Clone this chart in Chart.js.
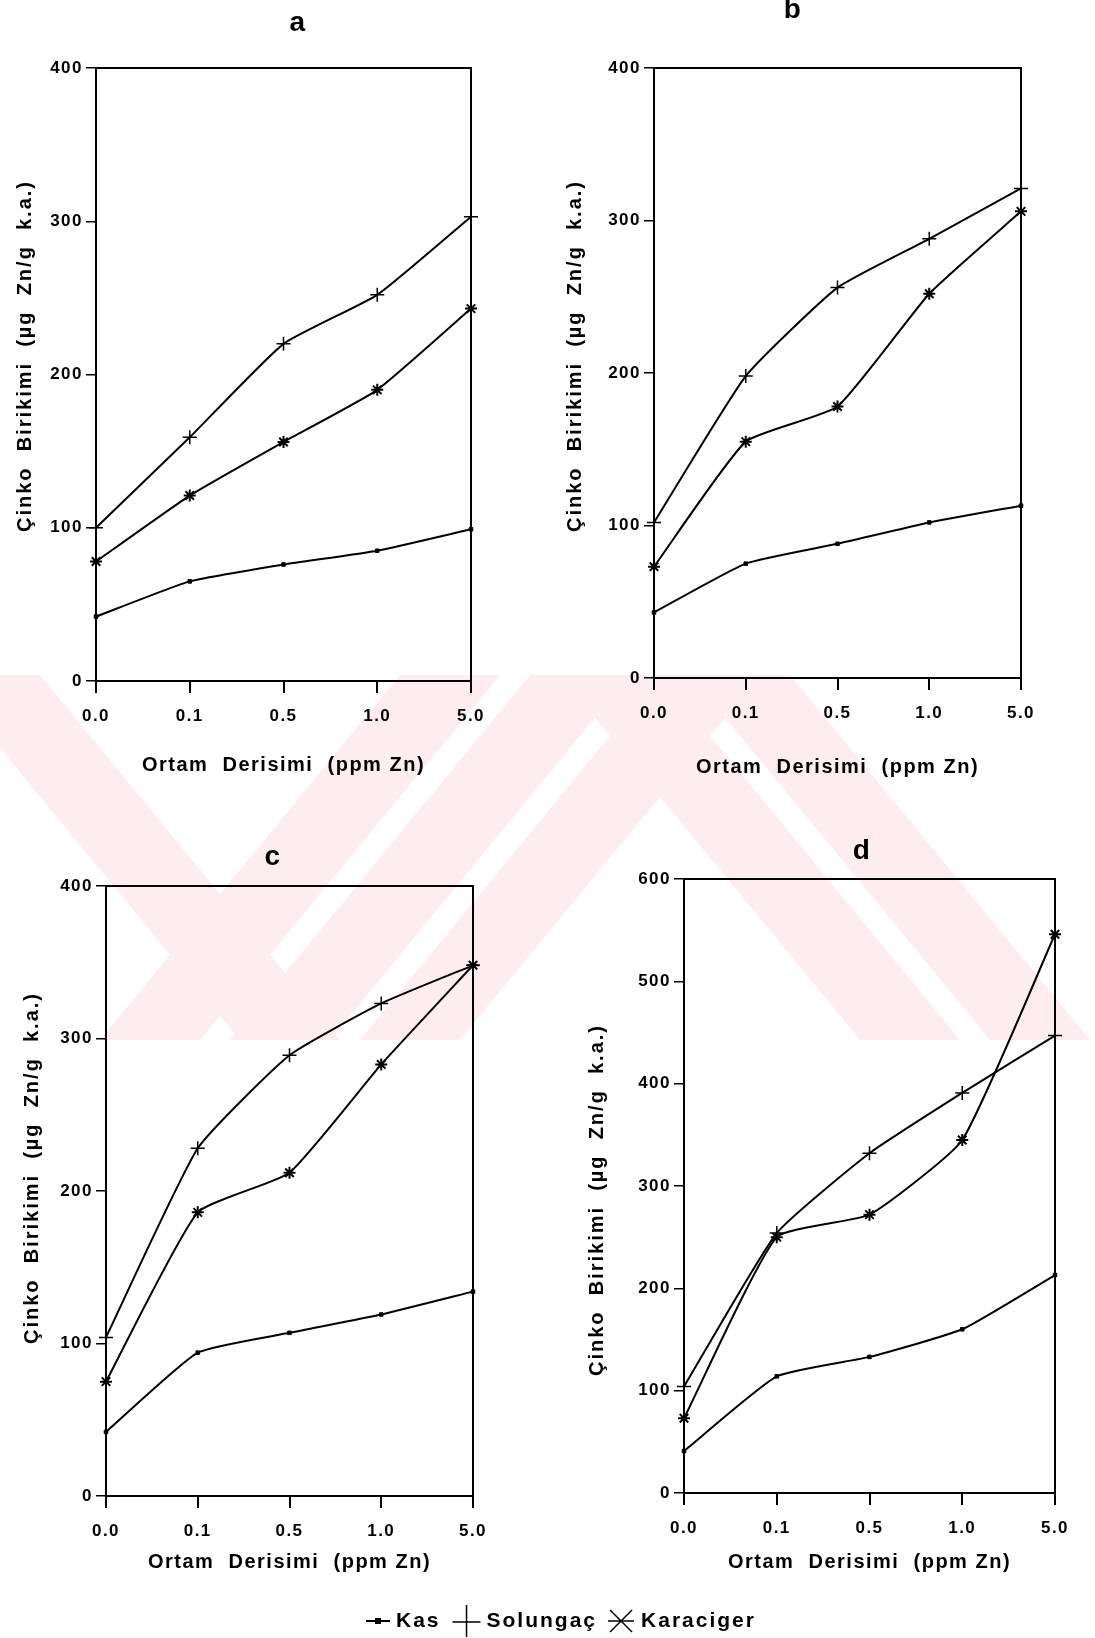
<!DOCTYPE html>
<html>
<head>
<meta charset="utf-8">
<script src="https://cdn.jsdelivr.net/npm/chart.js@4.4.1/dist/chart.umd.min.js"></script>
<style>
  html, body { margin: 0; padding: 0; background: #fff; }
  #wrap { position: relative; width: 1095px; height: 1638px; overflow: hidden; }
  #wrap svg, #wrap canvas { position: absolute; left: 0; top: 0; }
</style>
</head>
<body>
<div id="wrap">
  <!-- marca de agua rosada del escaneo -->
  <svg width="1095" height="1638">
    <defs><clipPath id="band"><rect x="0" y="675" width="1095" height="365"/></clipPath></defs>
    <g clip-path="url(#band)" fill="#fdedf0" id="wm"></g>
  </svg>
  <canvas id="pa" width="1095" height="1638"></canvas>
  <canvas id="pb" width="1095" height="1638"></canvas>
  <canvas id="pc" width="1095" height="1638"></canvas>
  <canvas id="pd" width="1095" height="1638"></canvas>
</div>
<script>
// ─── DATOS ────────────────────────────────────────────────
const derisim = ['0.0', '0.1', '0.5', '1.0', '5.0'];   // ppm Zn

const kasA = [42, 65, 76, 85, 99];
const solA = [100, 159, 220, 252, 303];
const karA = [78, 121, 156, 190, 243];

const kasB = [43, 75, 88, 102, 113];
const solB = [102, 198, 256, 288, 321];
const karB = [73, 155, 178, 252, 306];

const kasC = [42, 94, 107, 119, 134];
const solC = [104, 228, 289, 323, 348];
const karC = [75, 186, 212, 283, 348];

const kasD = [41, 114, 133, 160, 213];
const solD = [104, 254, 332, 391, 447];
const karD = [73, 250, 272, 345, 546];

const yMaxABC = 400;
const yMaxD   = 600;

const FONT = '"Liberation Sans", Arial, Helvetica, sans-serif';
Chart.defaults.font.family = FONT;
Chart.defaults.color = '#000';

// Marca de agua: franjas diagonales
(function () {
  const g = document.getElementById('wm');
  const top = 675, bot = 1040, run = 300, w = 100;
  const bajan = [-60, 560, 690];     // franjas "\"
  const suben = [100, 230, 360];     // franjas "/"
  let html = '';
  bajan.forEach(x => {
    html += `<polygon points="${x},${top} ${x + w},${top} ${x + w + run},${bot} ${x + run},${bot}"/>`;
  });
  suben.forEach(x => {
    html += `<polygon points="${x},${bot} ${x + w},${bot} ${x + w + run},${top} ${x + run},${top}"/>`;
  });
  g.innerHTML = html;
})();

// Marco, letra del panel y título del eje Y
const panelDeco = {
  id: 'panelDeco',
  beforeDraw(chart) { chart.ctx.letterSpacing = '1.5px'; },
  afterDraw(chart, args, opts) {
    const { ctx, chartArea: a } = chart;
    ctx.save();
    ctx.strokeStyle = '#000';
    ctx.lineWidth = 2;
    ctx.strokeRect(a.left, a.top, a.right - a.left, a.bottom - a.top);
    ctx.fillStyle = '#000';
    ctx.textAlign = 'center';
    ctx.textBaseline = 'middle';
    ctx.font = 'bold 28px ' + FONT;
    ctx.fillText(opts.letter, opts.x, opts.y);

    ctx.letterSpacing = '2px';
    ctx.font = 'bold 20px ' + FONT;
    ctx.translate(opts.tx, opts.ty);
    ctx.rotate(-Math.PI / 2);
    ctx.fillText(opts.yTitle, 0, 0);
    ctx.restore();
  },
};

// Leyenda común, dibujada desde el panel c
const bottomLegend = {
  id: 'bottomLegend',
  afterDraw(chart, args, opts) {
    const ctx = chart.ctx;
    const names = chart.data.datasets.map(d => d.label);
    const y = opts.y;
    let x = opts.x;
    ctx.save();
    ctx.letterSpacing = '2px';
    ctx.strokeStyle = '#000';
    ctx.fillStyle = '#000';
    ctx.lineWidth = 2;
    ctx.font = 'bold 21px ' + FONT;
    ctx.textAlign = 'left';
    ctx.textBaseline = 'middle';

    // Kas: línea con cuadrito
    ctx.beginPath(); ctx.moveTo(x, y); ctx.lineTo(x + 24, y); ctx.stroke();
    ctx.fillRect(x + 9, y - 3, 6, 6);
    x += 30;
    ctx.fillText(names[0], x, y);
    x += ctx.measureText(names[0]).width + 12;

    // Solungaç: cruz
    ctx.lineWidth = 1.5;
    ctx.beginPath();
    ctx.moveTo(x + 14, y - 16); ctx.lineTo(x + 14, y + 16);
    ctx.moveTo(x, y + 1); ctx.lineTo(x + 28, y + 1);
    ctx.stroke();
    x += 34;
    ctx.fillText(names[1], x, y);
    x += ctx.measureText(names[1]).width + 12;

    // Karaciger: asterisco
    const cx = x + 12, r = 11;
    ctx.beginPath();
    ctx.moveTo(cx - r, y - r); ctx.lineTo(cx + r, y + r);
    ctx.moveTo(cx + r, y - r); ctx.lineTo(cx - r, y + r);
    ctx.moveTo(cx - r - 2, y); ctx.lineTo(cx + r + 2, y);
    ctx.stroke();
    x += 32;
    ctx.fillText(names[2], x, y);
    ctx.restore();
  },
};

function panel(id, letter, kas, sol, kar, yMax, box, withLegend) {
  const serie = {
    borderColor: '#000',
    backgroundColor: '#000',
    borderWidth: 2,
    tension: 0.15,
    clip: false,
  };
  return new Chart(document.getElementById(id), {
    type: 'line',
    data: {
      labels: derisim,
      datasets: [
        { ...serie, label: 'Kas',       data: kas, pointStyle: 'rect',  pointRadius: 2.5, pointBorderWidth: 1 },
        { ...serie, label: 'Solungaç',  data: sol, pointStyle: 'cross', pointRadius: 7,   pointBorderWidth: 1.5 },
        { ...serie, label: 'Karaciger', data: kar, pointStyle: 'star',  pointRadius: 6,   pointBorderWidth: 2 },
      ],
    },
    options: {
      responsive: false,
      animation: false,
      devicePixelRatio: 1,
      events: [],
      layout: {
        padding: {
          left: box.padL,
          top: box.top,
          right: 1095 - box.right,
          bottom: 1638 - box.bottom - box.xh,
        },
      },
      plugins: {
        legend:  { display: false },
        tooltip: { enabled: false },
        panelDeco: {
          letter, x: box.lx, y: box.ly,
          yTitle: 'Çinko  Birikimi  (µg  Zn/g  k.a.)', tx: box.tx, ty: box.ty,
        },
        bottomLegend: { x: 366, y: 1621 },
      },
      scales: {
        x: {
          offset: false,
          afterFit: s => { s.height = box.xh; },
          grid:   { drawOnChartArea: false, drawTicks: true, tickLength: 12, color: '#000', lineWidth: 2 },
          border: { display: true, color: '#000', width: 2 },
          ticks:  { color: '#000', maxRotation: 0, padding: 13, font: { size: 17, weight: 'bold' } },
          title:  {
            display: true, text: 'Ortam  Derisimi  (ppm Zn)', color: '#000',
            font: { size: 20, weight: 'bold' }, padding: { top: 0, bottom: 6 },
          },
        },
        y: {
          min: 0,
          max: yMax,
          afterFit: s => { s.width = box.yw; },
          grid:   { drawOnChartArea: false, drawTicks: true, tickLength: 10, color: '#000', lineWidth: 1.5 },
          border: { display: true, color: '#000', width: 2 },
          ticks:  { color: '#000', stepSize: 100, padding: 3, font: { size: 17, weight: 'bold' } },
        },
      },
    },
    plugins: withLegend ? [panelDeco, bottomLegend] : [panelDeco],
  });
}

panel('pa', 'a', kasA, solA, karA, yMaxABC,
  { padL: 0,   yw: 96,  top: 68,  right: 471,  bottom: 681,  xh: 102, lx: 298, ly: 23,  tx: 25,  ty: 356 });
panel('pb', 'b', kasB, solB, karB, yMaxABC,
  { padL: 540, yw: 114, top: 68,  right: 1021, bottom: 678,  xh: 107, lx: 793, ly: 10,  tx: 575, ty: 356 });
panel('pc', 'c', kasC, solC, karC, yMaxABC,
  { padL: 0,   yw: 106, top: 886, right: 473,  bottom: 1496, xh: 84,  lx: 273, ly: 857, tx: 32,  ty: 1168 }, true);
panel('pd', 'd', kasD, solD, karD, yMaxD,
  { padL: 560, yw: 124, top: 879, right: 1055, bottom: 1493, xh: 87,  lx: 862, ly: 851, tx: 597, ty: 1200 });
</script>
</body>
</html>
